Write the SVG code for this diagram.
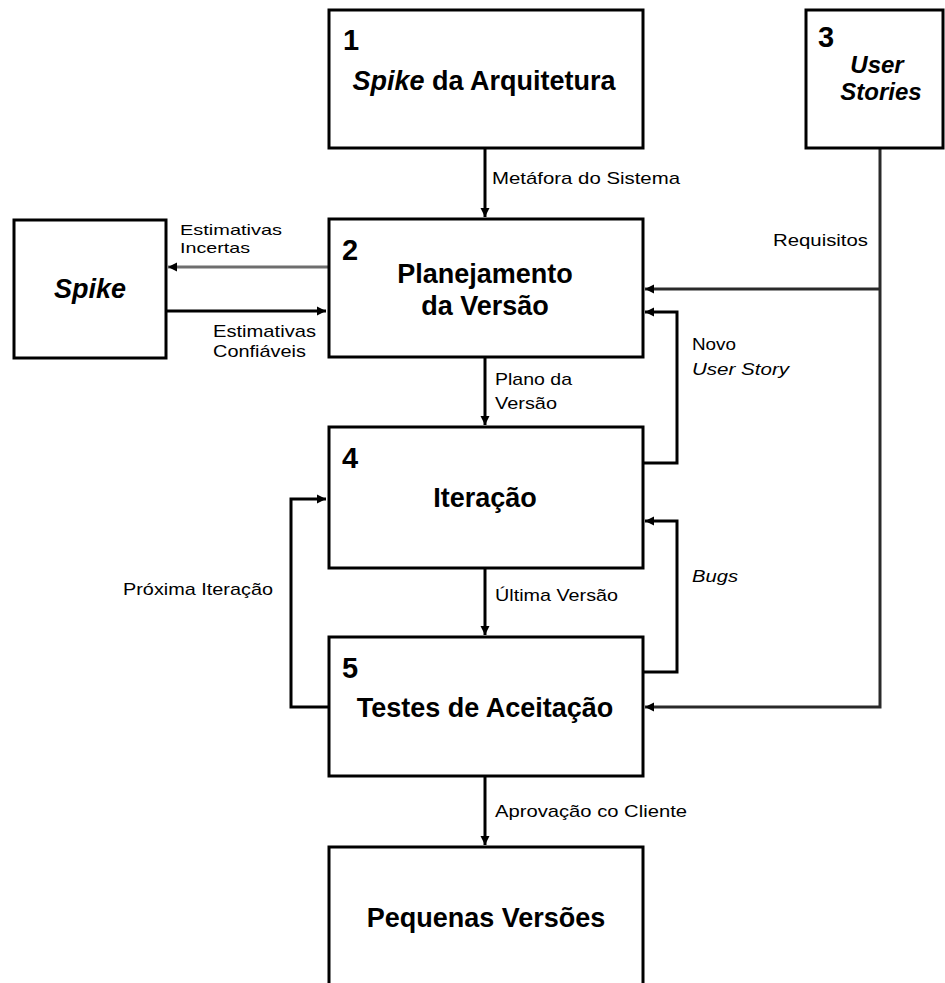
<svg xmlns="http://www.w3.org/2000/svg" width="945" height="983" viewBox="0 0 945 983">
  <style>
    .box { fill: #ffffff; stroke: #000000; stroke-width: 3; }
    .title { font-family: "Liberation Sans", Arial, sans-serif; font-weight: bold; font-size: 27px; fill: #000; text-anchor: middle; }
    .num { font-family: "Liberation Sans", Arial, sans-serif; font-weight: bold; font-size: 29px; fill: #000; }
    .label { font-family: "Liberation Sans", Arial, sans-serif; font-size: 17px; fill: #000; }
    .small { font-size: 15px; }
    .it { font-style: italic; }
    .wire { fill: none; stroke: #000000; stroke-width: 3; }
    .grey { stroke: #6e6e6e; }
    .dark { stroke: #2a2a2a; }
  </style>
  <defs>
    <marker id="arrow" markerUnits="userSpaceOnUse" markerWidth="10" markerHeight="10" refX="9" refY="5" orient="auto">
      <path d="M0,0.5 L9,5 L0,9.5 z" fill="#000"/>
    </marker>
  </defs>

  <rect width="945" height="983" fill="#ffffff"/>

  <!-- connectors -->
  <g id="connectors">
    <line class="wire" x1="485" y1="148" x2="485" y2="217" marker-end="url(#arrow)"/>
    <line class="wire" x1="485" y1="357" x2="485" y2="425" marker-end="url(#arrow)"/>
    <line class="wire" x1="485" y1="568" x2="485" y2="635" marker-end="url(#arrow)"/>
    <line class="wire" x1="485" y1="776" x2="485" y2="845" marker-end="url(#arrow)"/>
    <!-- spike exchange -->
    <line class="wire grey" x1="328" y1="267" x2="168" y2="267" marker-end="url(#arrow)"/>
    <line class="wire" x1="166" y1="311" x2="326" y2="311" marker-end="url(#arrow)"/>
    <!-- requirements from user stories -->
    <polyline class="wire dark" points="880,148 880,707 645,707" marker-end="url(#arrow)"/>
    <line class="wire dark" x1="880" y1="289" x2="645" y2="289" marker-end="url(#arrow)"/>
    <!-- new user story -->
    <polyline class="wire" points="643,463 677,463 677,312 645,312" marker-end="url(#arrow)"/>
    <!-- bugs -->
    <polyline class="wire" points="643,672 677,672 677,521 645,521" marker-end="url(#arrow)"/>
    <!-- next iteration -->
    <polyline class="wire" points="328,707 291,707 291,499 326,499" marker-end="url(#arrow)"/>

    <text class="label" x="492" y="184" textLength="188" lengthAdjust="spacingAndGlyphs">Metáfora do Sistema</text>
    <text class="label small" x="180" y="235" textLength="102" lengthAdjust="spacingAndGlyphs">Estimativas</text>
    <text class="label small" x="180" y="253" textLength="70" lengthAdjust="spacingAndGlyphs">Incertas</text>
    <text class="label" x="213" y="337" textLength="103" lengthAdjust="spacingAndGlyphs">Estimativas</text>
    <text class="label" x="213" y="357" textLength="93" lengthAdjust="spacingAndGlyphs">Confiáveis</text>
    <text class="label" x="773" y="246" textLength="95" lengthAdjust="spacingAndGlyphs">Requisitos</text>
    <text class="label" x="495" y="385" textLength="77" lengthAdjust="spacingAndGlyphs">Plano da</text>
    <text class="label" x="495" y="409" textLength="62" lengthAdjust="spacingAndGlyphs">Versão</text>
    <text class="label" x="692" y="350" textLength="44" lengthAdjust="spacingAndGlyphs">Novo</text>
    <text class="label it" x="692" y="375" textLength="97" lengthAdjust="spacingAndGlyphs">User Story</text>
    <text class="label it" x="692" y="582" textLength="46" lengthAdjust="spacingAndGlyphs">Bugs</text>
    <text class="label" x="123" y="595" textLength="150" lengthAdjust="spacingAndGlyphs">Próxima Iteração</text>
    <text class="label" x="495" y="601" textLength="123" lengthAdjust="spacingAndGlyphs">Última Versão</text>
    <text class="label" x="495" y="817" textLength="192" lengthAdjust="spacingAndGlyphs">Aprovação co Cliente</text>
  </g>

  <g id="n1">
    <rect class="box" x="329" y="10" width="314" height="138"/>
    <text class="num" x="343" y="50">1</text>
    <text class="title" x="484" y="90"><tspan class="it">Spike</tspan> da Arquitetura</text>
  </g>

  <g id="n3">
    <rect class="box" x="806" y="10" width="137" height="138"/>
    <text class="num" x="818" y="47">3</text>
    <text class="title it" x="877" y="73" style="font-size:24px">User</text>
    <text class="title it" x="881" y="100" style="font-size:24px">Stories</text>
  </g>

  <g id="spike">
    <rect class="box" x="14" y="220" width="152" height="138"/>
    <text class="title it" x="90" y="298">Spike</text>
  </g>

  <g id="n2">
    <rect class="box" x="329" y="219" width="314" height="138"/>
    <text class="num" x="342" y="260">2</text>
    <text class="title" x="485" y="283">Planejamento</text>
    <text class="title" x="485" y="315">da Versão</text>
  </g>

  <g id="n4">
    <rect class="box" x="329" y="427" width="314" height="141"/>
    <text class="num" x="342" y="468">4</text>
    <text class="title" x="485" y="507">Iteração</text>
  </g>

  <g id="n5">
    <rect class="box" x="329" y="637" width="314" height="139"/>
    <text class="num" x="342" y="678">5</text>
    <text class="title" x="485" y="717">Testes de Aceitação</text>
  </g>

  <g id="n6">
    <rect class="box" x="329" y="847" width="314" height="150"/>
    <text class="title" x="486" y="927">Pequenas Versões</text>
  </g>
</svg>
